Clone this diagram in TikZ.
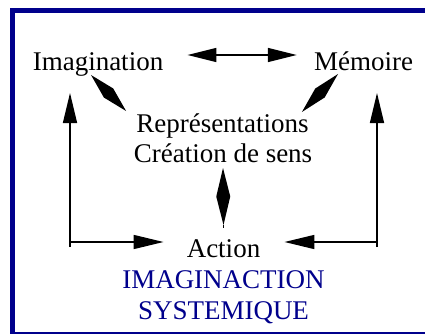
\documentclass[tikz,border=0pt]{standalone}
\usepackage{fontspec}
\setmainfont{Liberation Serif}
\definecolor{mynavy}{RGB}{0, 0, 140}
\usetikzlibrary{arrows.meta, calc}

\begin{document}
\begin{tikzpicture}[x = 1pt, y = -1pt,
	word/.style = {inner sep = 0pt, anchor = base, font = \fontsize{27}{30}\selectfont},
	arr/.style = {line width = 1.5pt, -{Triangle[length = 30pt, width = 14pt]}},
	dbl/.style = {line width = 1.5pt, {Triangle[length = 29pt, width = 14pt]}-{Triangle[length = 29pt, width = 14pt]}}]
	\clip (0, 0) rectangle (425, 334);
	\draw[mynavy, line width = 5pt] (12.5, 11) rectangle (440, 334.5);

	\node[word] (ima) at (98, 71) {Imagination};
	\node[word] (mem) at (363.5, 71) {Mémoire};
	\node[word] (rep) at (222.5, 132) {Représentations};
	\node[word] (cre) at (223, 162.5) {Création de sens};
	\node[word] (act) at (223.5, 257) {Action};
	\node[word, mynavy] (imx) at (223.5, 288) {IMAGINACTION};
	\node[word, mynavy] (sys) at (223.5, 319) {SYSTEMIQUE};

	% corners of the two side loops
	\coordinate (cl) at (70, 242);
	\coordinate (cr) at (377, 242);

	% ends of the diamond shaped links
	\coordinate (lt) at ([shift = {(-7, 4)}]ima.base);
	\coordinate (lb) at ([shift = {(-10, -21)}]rep.base west);
	\coordinate (rt) at ([shift = {(-25.5, 3)}]mem.base);
	\coordinate (rb) at ([shift = {(-7, -20)}]rep.base east);
	\coordinate (ct) at ([shift = {(0, 5.5)}]cre.base);
	\coordinate (cb) at ([shift = {(0, -32)}]act.base);
	\coordinate (lm) at ($(lt)!0.5!(lb)$);
	\coordinate (rm) at ($(rt)!0.5!(rb)$);
	\coordinate (cm) at ($(ct)!0.5!(cb)$);

	\draw[dbl] ([shift = {(24, -16)}]ima.base east) -- ([shift = {(-17, -16)}]mem.base west);
	\fill (lt) -- ($(lm)!6.5pt!90:(lt)$) -- (lb) -- ($(lm)!6.5pt!270:(lt)$) -- cycle;
	\fill (rt) -- ($(rm)!6.5pt!90:(rt)$) -- (rb) -- ($(rm)!6.5pt!270:(rt)$) -- cycle;
	\fill (ct) -- ($(cm)!7pt!90:(ct)$) -- (cb) -- ($(cm)!7pt!270:(ct)$) -- cycle;
	\draw[line width = 1.2pt] (cb) -- ++(0, 3);

	\draw[arr] ([shift = {(0, 5)}]cl) -- ([shift = {(-28, 22)}]ima.base);
	\draw[arr] (cl) -- ([shift = {(-23, -15)}]act.base west);
	\draw[arr] ([shift = {(0, 5)}]cr) -- ([shift = {(13.5, 22)}]mem.base);
	\draw[arr] (cr) -- ([shift = {(24, -15)}]act.base east);
\end{tikzpicture}
\end{document}
